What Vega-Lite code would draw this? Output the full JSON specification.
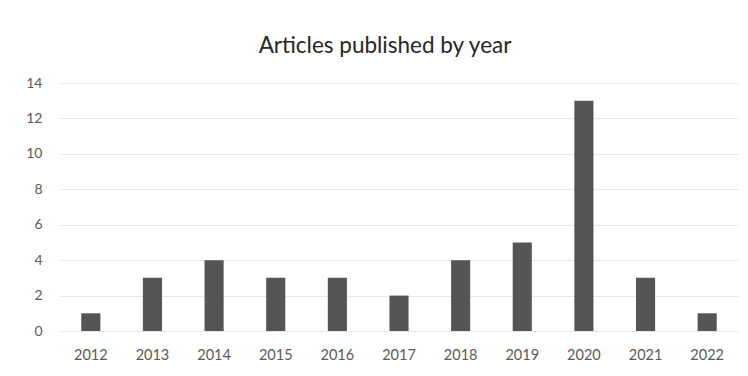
{
  "$schema": "https://vega.github.io/schema/vega-lite/v6.json",
  "width": 678,
  "height": 248,
  "autosize": "none",
  "padding": {"left": 60, "top": 83, "right": 10, "bottom": 45},
  "background": "white",
  "title": {
    "text": "Articles published by year",
    "font": "Lato",
    "fontSize": 22.5,
    "fontWeight": "normal",
    "color": "#262626",
    "anchor": "middle",
    "dx": -14,
    "offset": 19
  },
  "data": {
    "values": [
      {"year": "2012", "count": 1},
      {"year": "2013", "count": 3},
      {"year": "2014", "count": 4},
      {"year": "2015", "count": 3},
      {"year": "2016", "count": 3},
      {"year": "2017", "count": 2},
      {"year": "2018", "count": 4},
      {"year": "2019", "count": 5},
      {"year": "2020", "count": 13},
      {"year": "2021", "count": 3},
      {"year": "2022", "count": 1}
    ]
  },
  "mark": {"type": "bar", "color": "#555555"},
  "encoding": {
    "x": {
      "field": "year",
      "type": "ordinal",
      "scale": {"paddingInner": 0.69, "paddingOuter": 0.345},
      "axis": {
        "title": null,
        "labelAngle": 0,
        "labelFont": "Lato",
        "labelFontSize": 14.5,
        "labelColor": "#595959",
        "labelPadding": 17,
        "ticks": false,
        "domain": false,
        "grid": false
      }
    },
    "y": {
      "field": "count",
      "type": "quantitative",
      "scale": {"domain": [0, 14]},
      "axis": {
        "title": null,
        "values": [0, 2, 4, 6, 8, 10, 12, 14],
        "labelFont": "Lato",
        "labelFontSize": 14,
        "labelColor": "#595959",
        "labelPadding": 18,
        "ticks": false,
        "domain": false,
        "grid": true,
        "gridColor": "#e6e6e6",
        "gridWidth": 1
      }
    }
  },
  "config": {"view": {"stroke": null}}
}
